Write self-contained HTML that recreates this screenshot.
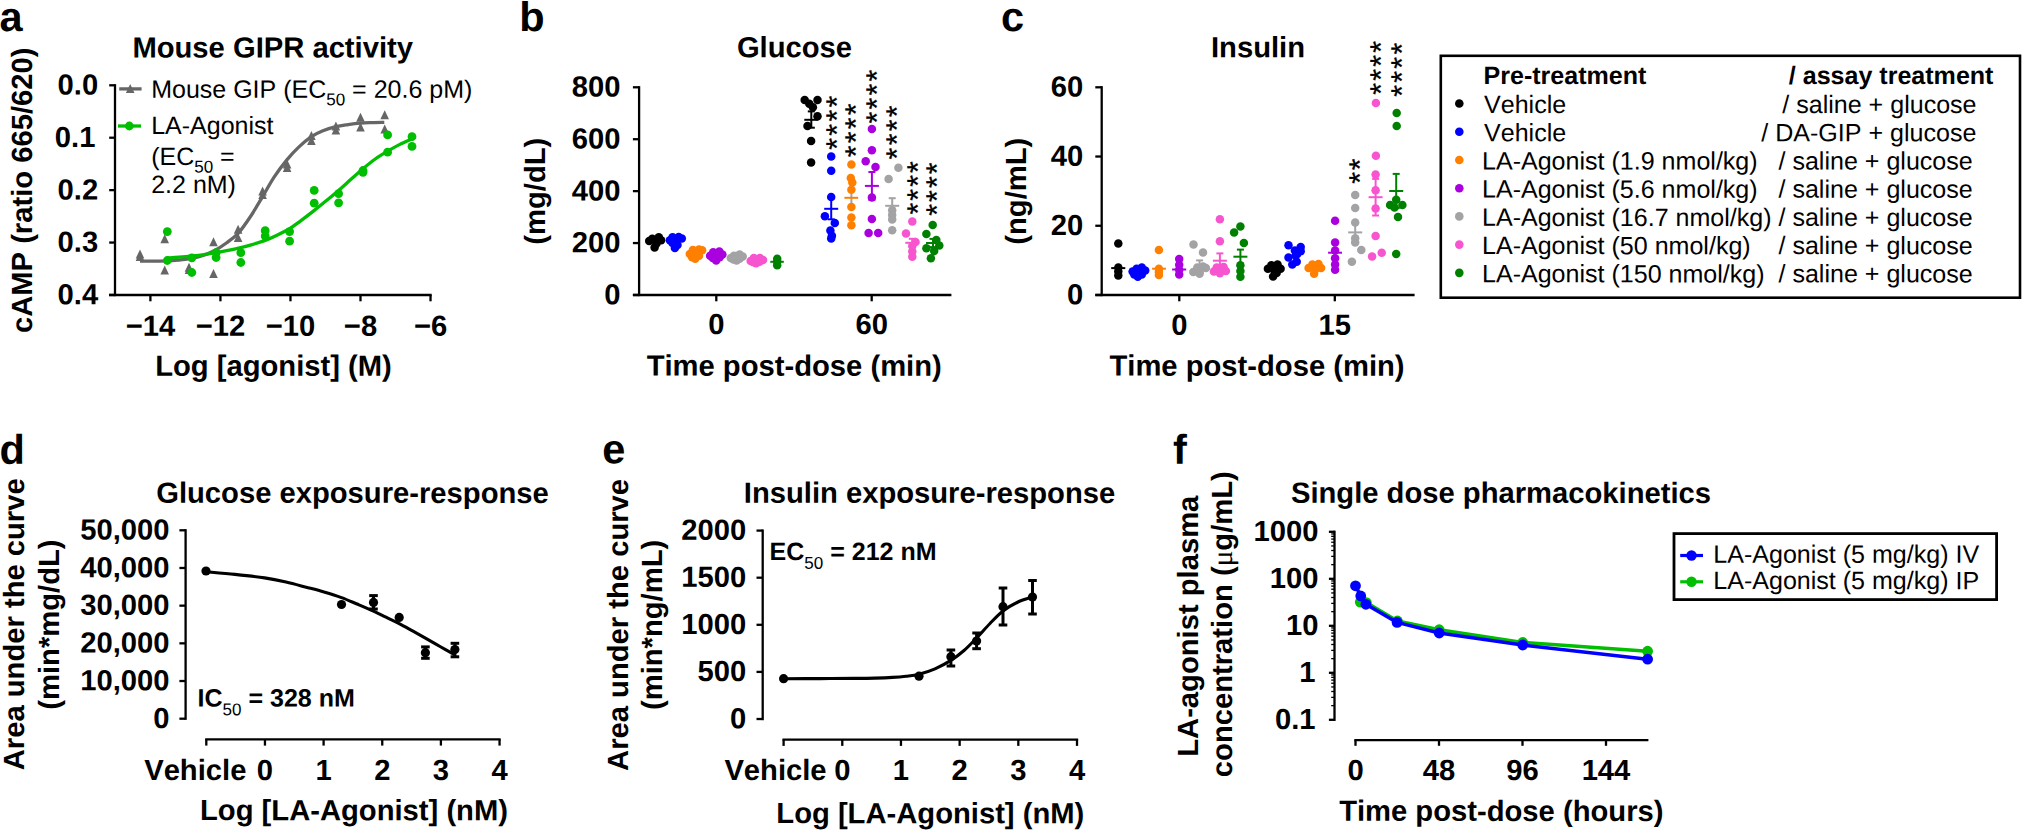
<!DOCTYPE html>
<html lang="en">
<head>
<meta charset="utf-8">
<title>LA-Agonist GIPR activity, glucose, insulin and pharmacokinetics</title>
<style>
html,body{margin:0;padding:0;background:#ffffff;}
body{width:2022px;height:830px;overflow:hidden;}
svg{display:block;font-family:"Liberation Sans",sans-serif;}
svg text{white-space:pre;font-kerning:none;font-variant-ligatures:none;text-rendering:geometricPrecision;}
</style>
</head>
<body>
<svg width="2022" height="830" viewBox="0 0 2022 830">
<rect x="0" y="0" width="2022" height="830" fill="#ffffff"/>
<g id="panel-a">
<text x="-0.6" y="31" font-size="41.5" font-weight="700" text-anchor="start" fill="#000" transform="rotate(0.03 -0.6 31)">a</text>
<text x="272.7" y="57.5" font-size="29.2" font-weight="700" text-anchor="middle" fill="#000" transform="rotate(0.03 272.7 57.5)">Mouse GIPR activity</text>
<line x1="115" y1="84.15" x2="115" y2="296.15" stroke="#000" stroke-width="2.3" stroke-linecap="butt"/>
<line x1="109" y1="295" x2="431.7" y2="295" stroke="#000" stroke-width="2.3" stroke-linecap="butt"/>
<line x1="109.2" y1="85.3" x2="115" y2="85.3" stroke="#000" stroke-width="2.3" stroke-linecap="butt"/>
<text x="98.2" y="94.6" font-size="29.2" font-weight="700" text-anchor="end" fill="#000" transform="rotate(0.03 98.2 94.6)">0.0</text>
<line x1="109.2" y1="137.72" x2="115" y2="137.72" stroke="#000" stroke-width="2.3" stroke-linecap="butt"/>
<text x="95.4" y="147.02" font-size="29.2" font-weight="700" text-anchor="end" fill="#000" transform="rotate(0.03 95.4 147.02)">0.1</text>
<line x1="109.2" y1="190.14" x2="115" y2="190.14" stroke="#000" stroke-width="2.3" stroke-linecap="butt"/>
<text x="98.2" y="199.44" font-size="29.2" font-weight="700" text-anchor="end" fill="#000" transform="rotate(0.03 98.2 199.44)">0.2</text>
<line x1="109.2" y1="242.56" x2="115" y2="242.56" stroke="#000" stroke-width="2.3" stroke-linecap="butt"/>
<text x="98.2" y="251.86" font-size="29.2" font-weight="700" text-anchor="end" fill="#000" transform="rotate(0.03 98.2 251.86)">0.3</text>
<line x1="109.2" y1="294.98" x2="115" y2="294.98" stroke="#000" stroke-width="2.3" stroke-linecap="butt"/>
<text x="98.2" y="304.28" font-size="29.2" font-weight="700" text-anchor="end" fill="#000" transform="rotate(0.03 98.2 304.28)">0.4</text>
<line x1="150.4" y1="295" x2="150.4" y2="301.3" stroke="#000" stroke-width="2.3" stroke-linecap="butt"/>
<text x="150.4" y="335.7" font-size="29.2" font-weight="700" text-anchor="middle" fill="#000" transform="rotate(0.03 150.4 335.7)">−14</text>
<line x1="220.43" y1="295" x2="220.43" y2="301.3" stroke="#000" stroke-width="2.3" stroke-linecap="butt"/>
<text x="220.43" y="335.7" font-size="29.2" font-weight="700" text-anchor="middle" fill="#000" transform="rotate(0.03 220.43 335.7)">−12</text>
<line x1="290.46" y1="295" x2="290.46" y2="301.3" stroke="#000" stroke-width="2.3" stroke-linecap="butt"/>
<text x="290.46" y="335.7" font-size="29.2" font-weight="700" text-anchor="middle" fill="#000" transform="rotate(0.03 290.46 335.7)">−10</text>
<line x1="360.49" y1="295" x2="360.49" y2="301.3" stroke="#000" stroke-width="2.3" stroke-linecap="butt"/>
<text x="360.49" y="335.7" font-size="29.2" font-weight="700" text-anchor="middle" fill="#000" transform="rotate(0.03 360.49 335.7)">−8</text>
<line x1="430.52" y1="295" x2="430.52" y2="301.3" stroke="#000" stroke-width="2.3" stroke-linecap="butt"/>
<text x="430.52" y="335.7" font-size="29.2" font-weight="700" text-anchor="middle" fill="#000" transform="rotate(0.03 430.52 335.7)">−6</text>
<text x="273.5" y="375.7" font-size="29.2" font-weight="700" text-anchor="middle" fill="#000" transform="rotate(0.03 273.5 375.7)">Log [agonist] (M)</text>
<text x="32.2" y="190.3" font-size="29.2" font-weight="700" text-anchor="middle" fill="#000" transform="rotate(-90 32.2 190.3)">cAMP (ratio 665/620)</text>
<path d="M140,261.1 C142,261.1 147.65,261.15 152,261.1 C156.35,261.05 161.77,260.97 166.1,260.8 C170.43,260.63 173.98,260.45 178,260.1 C182.02,259.75 186.15,259.43 190.2,258.7 C194.25,257.97 198.28,257.02 202.3,255.7 C206.32,254.38 210.28,252.92 214.3,250.8 C218.32,248.68 222.43,245.9 226.4,243 C230.37,240.1 234.08,237.82 238.1,233.4 C242.12,228.98 246.42,222.63 250.5,216.5 C254.58,210.37 258.67,203.17 262.6,196.6 C266.53,190.03 270.02,183.27 274.1,177.1 C278.18,170.93 283.08,164.52 287.1,159.6 C291.12,154.68 294.15,151.42 298.2,147.6 C302.25,143.78 307.38,139.47 311.4,136.7 C315.42,133.93 318.22,132.67 322.3,131 C326.38,129.33 331.62,127.77 335.9,126.7 C340.18,125.63 343.9,125.2 348,124.6 C352.1,124 356.5,123.43 360.5,123.1 C364.5,122.77 368.03,122.72 372,122.6 C375.97,122.48 382.25,122.43 384.3,122.4" fill="none" stroke="#666666" stroke-width="3.3" stroke-linecap="butt"/>
<polygon points="140,249.5 135.7,258.5 144.3,258.5" fill="#666666"/>
<polygon points="140,252 135.7,261 144.3,261" fill="#666666"/>
<polygon points="164.7,234.3 160.4,243.3 169,243.3" fill="#666666"/>
<polygon points="164.7,265.6 160.4,274.6 169,274.6" fill="#666666"/>
<polygon points="189,262.7 184.7,271.7 193.3,271.7" fill="#666666"/>
<polygon points="189,265.1 184.7,274.1 193.3,274.1" fill="#666666"/>
<polygon points="213.5,237.3 209.2,246.3 217.8,246.3" fill="#666666"/>
<polygon points="213.5,269 209.2,278 217.8,278" fill="#666666"/>
<polygon points="238.1,224.7 233.8,233.7 242.4,233.7" fill="#666666"/>
<polygon points="238.1,233.1 233.8,242.1 242.4,242.1" fill="#666666"/>
<polygon points="262.6,186.5 258.3,195.5 266.9,195.5" fill="#666666"/>
<polygon points="262.6,190.1 258.3,199.1 266.9,199.1" fill="#666666"/>
<polygon points="287.1,159.4 282.8,168.4 291.4,168.4" fill="#666666"/>
<polygon points="287.1,163 282.8,172 291.4,172" fill="#666666"/>
<polygon points="311.4,131 307.1,140 315.7,140" fill="#666666"/>
<polygon points="311.4,135.9 307.1,144.9 315.7,144.9" fill="#666666"/>
<polygon points="335.9,121.4 331.6,130.4 340.2,130.4" fill="#666666"/>
<polygon points="335.9,125.6 331.6,134.6 340.2,134.6" fill="#666666"/>
<polygon points="360.5,112.7 356.2,121.7 364.8,121.7" fill="#666666"/>
<polygon points="360.5,122.6 356.2,131.6 364.8,131.6" fill="#666666"/>
<polygon points="384.7,110.2 380.4,119.2 389,119.2" fill="#666666"/>
<polygon points="384.7,124.4 380.4,133.4 389,133.4" fill="#666666"/>
<path d="M167.3,258.1 C169.25,257.95 174.92,257.55 179,257.2 C183.08,256.85 187.63,256.43 191.8,256 C195.97,255.57 199.95,255.15 204,254.6 C208.05,254.05 212.1,253.4 216.1,252.7 C220.1,252 223.88,251.25 228,250.4 C232.12,249.55 236.63,248.62 240.8,247.6 C244.97,246.58 248.93,245.5 253,244.3 C257.07,243.1 261.2,241.92 265.2,240.4 C269.2,238.88 272.93,237.17 277,235.2 C281.07,233.23 285.77,230.92 289.6,228.6 C293.43,226.28 295.93,224.3 300,221.3 C304.07,218.3 309.48,214.15 314,210.6 C318.52,207.05 323,203.37 327.1,200 C331.2,196.63 334.62,193.85 338.6,190.4 C342.58,186.95 346.93,182.92 351,179.3 C355.07,175.68 358.95,172.08 363,168.7 C367.05,165.32 371.2,161.92 375.3,159 C379.4,156.08 383.58,153.6 387.6,151.2 C391.62,148.8 395.33,146.67 399.4,144.6 C403.47,142.53 409.9,139.77 412,138.8" fill="none" stroke="#00be00" stroke-width="3.3" stroke-linecap="butt"/>
<circle cx="167.3" cy="231.6" r="4.4" fill="#00be00"/>
<circle cx="167.3" cy="260.5" r="4.4" fill="#00be00"/>
<circle cx="191.8" cy="257.8" r="4.4" fill="#00be00"/>
<circle cx="191.8" cy="272.5" r="4.4" fill="#00be00"/>
<circle cx="216.1" cy="252.7" r="4.4" fill="#00be00"/>
<circle cx="216.1" cy="257.5" r="4.4" fill="#00be00"/>
<circle cx="240.8" cy="252.7" r="4.4" fill="#00be00"/>
<circle cx="240.8" cy="262.5" r="4.4" fill="#00be00"/>
<circle cx="265.2" cy="230.7" r="4.4" fill="#00be00"/>
<circle cx="265.2" cy="236.1" r="4.4" fill="#00be00"/>
<circle cx="289.6" cy="231.6" r="4.4" fill="#00be00"/>
<circle cx="289.6" cy="241.2" r="4.4" fill="#00be00"/>
<circle cx="314.2" cy="190.4" r="4.4" fill="#00be00"/>
<circle cx="314.2" cy="203.2" r="4.4" fill="#00be00"/>
<circle cx="338.6" cy="193.7" r="4.4" fill="#00be00"/>
<circle cx="338.6" cy="202.8" r="4.4" fill="#00be00"/>
<circle cx="363" cy="172.3" r="4.4" fill="#00be00"/>
<circle cx="363" cy="170.5" r="4.4" fill="#00be00"/>
<circle cx="387.6" cy="134.9" r="4.4" fill="#00be00"/>
<circle cx="387.6" cy="152.2" r="4.4" fill="#00be00"/>
<circle cx="412" cy="136.7" r="4.4" fill="#00be00"/>
<circle cx="412" cy="146.4" r="4.4" fill="#00be00"/>
<line x1="119.2" y1="88.9" x2="141.6" y2="88.9" stroke="#666666" stroke-width="3.3" stroke-linecap="butt"/>
<polygon points="130.2,84 125.9,93 134.5,93" fill="#666666"/>
<text x="151.2" y="97.7" font-size="25" font-weight="400" fill="#000" transform="rotate(0.03 151.2 97.7)">Mouse GIP (EC<tspan font-size="17" font-weight="400" dy="7.5">50</tspan><tspan dy="-7.5"> = 20.6 pM)</tspan></text>
<line x1="118" y1="126" x2="141" y2="126" stroke="#00be00" stroke-width="3.3" stroke-linecap="butt"/>
<circle cx="129.3" cy="126" r="4.4" fill="#00be00"/>
<text x="151.2" y="134" font-size="25" font-weight="400" text-anchor="start" fill="#000" transform="rotate(0.03 151.2 134)">LA-Agonist</text>
<text x="151.2" y="165" font-size="25" font-weight="400" fill="#000" transform="rotate(0.03 151.2 165)">(EC<tspan font-size="17" font-weight="400" dy="7.5">50</tspan><tspan dy="-7.5"> =</tspan></text>
<text x="151.2" y="193" font-size="25" font-weight="400" text-anchor="start" fill="#000" transform="rotate(0.03 151.2 193)">2.2 nM)</text>
</g>
<g id="panel-b">
<text x="519.3" y="31" font-size="41.5" font-weight="700" text-anchor="start" fill="#000" transform="rotate(0.03 519.3 31)">b</text>
<text x="794.5" y="57.3" font-size="29.2" font-weight="700" text-anchor="middle" fill="#000" transform="rotate(0.03 794.5 57.3)">Glucose</text>
<line x1="639.1" y1="86.15" x2="639.1" y2="296.15" stroke="#000" stroke-width="2.3" stroke-linecap="butt"/>
<line x1="632.9" y1="295" x2="951.4" y2="295" stroke="#000" stroke-width="2.3" stroke-linecap="butt"/>
<line x1="632.9" y1="87.3" x2="639.1" y2="87.3" stroke="#000" stroke-width="2.3" stroke-linecap="butt"/>
<text x="620.4" y="96.6" font-size="29.2" font-weight="700" text-anchor="end" fill="#000" transform="rotate(0.03 620.4 96.6)">800</text>
<line x1="632.9" y1="139.22" x2="639.1" y2="139.22" stroke="#000" stroke-width="2.3" stroke-linecap="butt"/>
<text x="620.4" y="148.52" font-size="29.2" font-weight="700" text-anchor="end" fill="#000" transform="rotate(0.03 620.4 148.52)">600</text>
<line x1="632.9" y1="191.14" x2="639.1" y2="191.14" stroke="#000" stroke-width="2.3" stroke-linecap="butt"/>
<text x="620.4" y="200.44" font-size="29.2" font-weight="700" text-anchor="end" fill="#000" transform="rotate(0.03 620.4 200.44)">400</text>
<line x1="632.9" y1="243.06" x2="639.1" y2="243.06" stroke="#000" stroke-width="2.3" stroke-linecap="butt"/>
<text x="620.4" y="252.36" font-size="29.2" font-weight="700" text-anchor="end" fill="#000" transform="rotate(0.03 620.4 252.36)">200</text>
<line x1="632.9" y1="294.98" x2="639.1" y2="294.98" stroke="#000" stroke-width="2.3" stroke-linecap="butt"/>
<text x="620.4" y="304.28" font-size="29.2" font-weight="700" text-anchor="end" fill="#000" transform="rotate(0.03 620.4 304.28)">0</text>
<line x1="716.3" y1="295" x2="716.3" y2="301.3" stroke="#000" stroke-width="2.3" stroke-linecap="butt"/>
<text x="716.3" y="333.9" font-size="29.2" font-weight="700" text-anchor="middle" fill="#000" transform="rotate(0.03 716.3 333.9)">0</text>
<line x1="871.7" y1="295" x2="871.7" y2="301.3" stroke="#000" stroke-width="2.3" stroke-linecap="butt"/>
<text x="871.7" y="333.9" font-size="29.2" font-weight="700" text-anchor="middle" fill="#000" transform="rotate(0.03 871.7 333.9)">60</text>
<text x="794.2" y="375.7" font-size="29.2" font-weight="700" text-anchor="middle" fill="#000" transform="rotate(0.03 794.2 375.7)">Time post-dose (min)</text>
<text x="544.8" y="191.2" font-size="29.2" font-weight="700" text-anchor="middle" fill="#000" transform="rotate(-90 544.8 191.2)">(mg/dL)</text>
<circle cx="649.2" cy="241.1" r="4.25" fill="#000000"/>
<circle cx="652.3" cy="238.8" r="4.25" fill="#000000"/>
<circle cx="658.8" cy="237.3" r="4.25" fill="#000000"/>
<circle cx="661.1" cy="240.3" r="4.25" fill="#000000"/>
<circle cx="655.3" cy="240.3" r="4.25" fill="#000000"/>
<circle cx="654.6" cy="247.6" r="4.25" fill="#000000"/>
<circle cx="656.5" cy="243.5" r="4.25" fill="#000000"/>
<circle cx="669.9" cy="240.3" r="4.25" fill="#0000ff"/>
<circle cx="672.6" cy="237.3" r="4.25" fill="#0000ff"/>
<circle cx="678.7" cy="236.9" r="4.25" fill="#0000ff"/>
<circle cx="681.8" cy="238.4" r="4.25" fill="#0000ff"/>
<circle cx="676" cy="241.9" r="4.25" fill="#0000ff"/>
<circle cx="674.9" cy="248" r="4.25" fill="#0000ff"/>
<circle cx="677.5" cy="244.9" r="4.25" fill="#0000ff"/>
<circle cx="672.5" cy="243" r="4.25" fill="#0000ff"/>
<circle cx="689.8" cy="254.1" r="4.25" fill="#ff8000"/>
<circle cx="692.9" cy="249.9" r="4.25" fill="#ff8000"/>
<circle cx="699" cy="249.5" r="4.25" fill="#ff8000"/>
<circle cx="702.1" cy="250.3" r="4.25" fill="#ff8000"/>
<circle cx="695.9" cy="254.1" r="4.25" fill="#ff8000"/>
<circle cx="695.2" cy="258.7" r="4.25" fill="#ff8000"/>
<circle cx="699" cy="255.7" r="4.25" fill="#ff8000"/>
<circle cx="692.1" cy="257.2" r="4.25" fill="#ff8000"/>
<circle cx="710.1" cy="255.7" r="4.25" fill="#aa00e0"/>
<circle cx="713.2" cy="252.2" r="4.25" fill="#aa00e0"/>
<circle cx="719.3" cy="251.4" r="4.25" fill="#aa00e0"/>
<circle cx="722.4" cy="254.5" r="4.25" fill="#aa00e0"/>
<circle cx="716.2" cy="255.7" r="4.25" fill="#aa00e0"/>
<circle cx="716.2" cy="260.6" r="4.25" fill="#aa00e0"/>
<circle cx="719.7" cy="257.2" r="4.25" fill="#aa00e0"/>
<circle cx="712.8" cy="258" r="4.25" fill="#aa00e0"/>
<circle cx="730.8" cy="258" r="4.25" fill="#a3a3a6"/>
<circle cx="733.9" cy="255.7" r="4.25" fill="#a3a3a6"/>
<circle cx="739.6" cy="254.5" r="4.25" fill="#a3a3a6"/>
<circle cx="742.7" cy="256.4" r="4.25" fill="#a3a3a6"/>
<circle cx="736.6" cy="258" r="4.25" fill="#a3a3a6"/>
<circle cx="736.6" cy="260.6" r="4.25" fill="#a3a3a6"/>
<circle cx="739.6" cy="258.7" r="4.25" fill="#a3a3a6"/>
<circle cx="733.5" cy="259.5" r="4.25" fill="#a3a3a6"/>
<circle cx="750.7" cy="261" r="4.25" fill="#f755d0"/>
<circle cx="753.8" cy="258" r="4.25" fill="#f755d0"/>
<circle cx="759.9" cy="258" r="4.25" fill="#f755d0"/>
<circle cx="763" cy="259.9" r="4.25" fill="#f755d0"/>
<circle cx="756.9" cy="261" r="4.25" fill="#f755d0"/>
<circle cx="756.1" cy="263.3" r="4.25" fill="#f755d0"/>
<circle cx="759.5" cy="261.8" r="4.25" fill="#f755d0"/>
<circle cx="753.4" cy="262.2" r="4.25" fill="#f755d0"/>
<circle cx="777.2" cy="258.7" r="4.25" fill="#008000"/>
<circle cx="777.2" cy="261.8" r="4.25" fill="#008000"/>
<circle cx="777.2" cy="265.2" r="4.25" fill="#008000"/>
<line x1="770.3" y1="261.8" x2="783.8" y2="261.8" stroke="#008000" stroke-width="2" stroke-linecap="butt"/>
<line x1="811.3" y1="111.4" x2="811.3" y2="127.7" stroke="#000000" stroke-width="2" stroke-linecap="butt"/>
<line x1="807.8" y1="111.4" x2="814.8" y2="111.4" stroke="#000000" stroke-width="2" stroke-linecap="butt"/>
<line x1="807.8" y1="127.7" x2="814.8" y2="127.7" stroke="#000000" stroke-width="2" stroke-linecap="butt"/>
<line x1="804.3" y1="119.8" x2="818.3" y2="119.8" stroke="#000000" stroke-width="2" stroke-linecap="butt"/>
<circle cx="804.7" cy="99.9" r="4.25" fill="#000000"/>
<circle cx="817.5" cy="99.9" r="4.25" fill="#000000"/>
<circle cx="809.3" cy="103.8" r="4.25" fill="#000000"/>
<circle cx="812.9" cy="107.2" r="4.25" fill="#000000"/>
<circle cx="817.5" cy="116.2" r="4.25" fill="#000000"/>
<circle cx="807.5" cy="126.1" r="4.25" fill="#000000"/>
<circle cx="811.1" cy="140.9" r="4.25" fill="#000000"/>
<circle cx="811.1" cy="162.4" r="4.25" fill="#000000"/>
<line x1="831.2" y1="198.4" x2="831.2" y2="219.3" stroke="#0000ff" stroke-width="2" stroke-linecap="butt"/>
<line x1="827.7" y1="198.4" x2="834.7" y2="198.4" stroke="#0000ff" stroke-width="2" stroke-linecap="butt"/>
<line x1="827.7" y1="219.3" x2="834.7" y2="219.3" stroke="#0000ff" stroke-width="2" stroke-linecap="butt"/>
<line x1="824.2" y1="208.8" x2="838.2" y2="208.8" stroke="#0000ff" stroke-width="2" stroke-linecap="butt"/>
<circle cx="831.2" cy="156.6" r="4.25" fill="#0000ff"/>
<circle cx="831.2" cy="170.7" r="4.25" fill="#0000ff"/>
<circle cx="831.2" cy="197" r="4.25" fill="#0000ff"/>
<circle cx="824.9" cy="216.3" r="4.25" fill="#0000ff"/>
<circle cx="834.8" cy="222.9" r="4.25" fill="#0000ff"/>
<circle cx="830.4" cy="230.5" r="4.25" fill="#0000ff"/>
<circle cx="831.9" cy="235.8" r="4.25" fill="#0000ff"/>
<circle cx="831.2" cy="238.6" r="4.25" fill="#0000ff"/>
<line x1="851.4" y1="193.5" x2="851.4" y2="203.5" stroke="#a3a3a6" stroke-width="2" stroke-linecap="butt"/>
<line x1="844.4" y1="197.8" x2="858.2" y2="197.8" stroke="#ff8000" stroke-width="2" stroke-linecap="butt"/>
<circle cx="851.4" cy="164.5" r="4.25" fill="#ff8000"/>
<circle cx="850.8" cy="178" r="4.25" fill="#ff8000"/>
<circle cx="852.3" cy="182.5" r="4.25" fill="#ff8000"/>
<circle cx="851.4" cy="189.8" r="4.25" fill="#ff8000"/>
<circle cx="851.4" cy="206.9" r="4.25" fill="#ff8000"/>
<circle cx="851.4" cy="217.5" r="4.25" fill="#ff8000"/>
<circle cx="851.4" cy="225.3" r="4.25" fill="#ff8000"/>
<line x1="871.9" y1="172" x2="871.9" y2="199.8" stroke="#aa00e0" stroke-width="2" stroke-linecap="butt"/>
<line x1="868.4" y1="172" x2="875.4" y2="172" stroke="#aa00e0" stroke-width="2" stroke-linecap="butt"/>
<line x1="868.4" y1="199.8" x2="875.4" y2="199.8" stroke="#aa00e0" stroke-width="2" stroke-linecap="butt"/>
<line x1="864.9" y1="185.9" x2="878.9" y2="185.9" stroke="#aa00e0" stroke-width="2" stroke-linecap="butt"/>
<circle cx="871.9" cy="129.1" r="4.25" fill="#aa00e0"/>
<circle cx="871.9" cy="150.3" r="4.25" fill="#aa00e0"/>
<circle cx="865.7" cy="161.3" r="4.25" fill="#aa00e0"/>
<circle cx="875.5" cy="166.9" r="4.25" fill="#aa00e0"/>
<circle cx="871.9" cy="197.6" r="4.25" fill="#aa00e0"/>
<circle cx="871.9" cy="218.9" r="4.25" fill="#aa00e0"/>
<circle cx="868.6" cy="232.9" r="4.25" fill="#aa00e0"/>
<circle cx="878.2" cy="232.9" r="4.25" fill="#aa00e0"/>
<line x1="892.2" y1="198.2" x2="892.2" y2="213.4" stroke="#a3a3a6" stroke-width="2" stroke-linecap="butt"/>
<line x1="888.7" y1="198.2" x2="895.7" y2="198.2" stroke="#a3a3a6" stroke-width="2" stroke-linecap="butt"/>
<line x1="888.7" y1="213.4" x2="895.7" y2="213.4" stroke="#a3a3a6" stroke-width="2" stroke-linecap="butt"/>
<line x1="885.2" y1="205.8" x2="899.2" y2="205.8" stroke="#a3a3a6" stroke-width="2" stroke-linecap="butt"/>
<circle cx="898.4" cy="167.7" r="4.25" fill="#a3a3a6"/>
<circle cx="888.6" cy="178.9" r="4.25" fill="#a3a3a6"/>
<circle cx="892.2" cy="210.2" r="4.25" fill="#a3a3a6"/>
<circle cx="892.2" cy="215" r="4.25" fill="#a3a3a6"/>
<circle cx="892.2" cy="219.6" r="4.25" fill="#a3a3a6"/>
<circle cx="892.2" cy="230.2" r="4.25" fill="#a3a3a6"/>
<line x1="912.3" y1="238.8" x2="912.3" y2="246.8" stroke="#f755d0" stroke-width="2" stroke-linecap="butt"/>
<line x1="908.8" y1="238.8" x2="915.8" y2="238.8" stroke="#f755d0" stroke-width="2" stroke-linecap="butt"/>
<line x1="908.8" y1="246.8" x2="915.8" y2="246.8" stroke="#f755d0" stroke-width="2" stroke-linecap="butt"/>
<line x1="905.3" y1="242.8" x2="919.3" y2="242.8" stroke="#f755d0" stroke-width="2" stroke-linecap="butt"/>
<circle cx="912.3" cy="221.6" r="4.25" fill="#f755d0"/>
<circle cx="906" cy="233.4" r="4.25" fill="#f755d0"/>
<circle cx="915.5" cy="241.9" r="4.25" fill="#f755d0"/>
<circle cx="912.3" cy="246.1" r="4.25" fill="#f755d0"/>
<circle cx="912.3" cy="251.6" r="4.25" fill="#f755d0"/>
<circle cx="912.3" cy="256.7" r="4.25" fill="#f755d0"/>
<line x1="933" y1="238.9" x2="933" y2="247.1" stroke="#008000" stroke-width="2" stroke-linecap="butt"/>
<line x1="929.5" y1="238.9" x2="936.5" y2="238.9" stroke="#008000" stroke-width="2" stroke-linecap="butt"/>
<line x1="929.5" y1="247.1" x2="936.5" y2="247.1" stroke="#008000" stroke-width="2" stroke-linecap="butt"/>
<line x1="926" y1="243" x2="940" y2="243" stroke="#008000" stroke-width="2" stroke-linecap="butt"/>
<circle cx="932.7" cy="224.9" r="4.25" fill="#008000"/>
<circle cx="926.4" cy="233.9" r="4.25" fill="#008000"/>
<circle cx="936.3" cy="240.1" r="4.25" fill="#008000"/>
<circle cx="939.3" cy="245.5" r="4.25" fill="#008000"/>
<circle cx="926.4" cy="248.2" r="4.25" fill="#008000"/>
<circle cx="934.2" cy="251" r="4.25" fill="#008000"/>
<circle cx="930.9" cy="258.2" r="4.25" fill="#008000"/>
<text x="825.48" y="117.09" font-size="30" font-weight="400" fill="#000" stroke="#000" stroke-width="0.3" transform="rotate(-90 831.3 101.7)">*</text>
<text x="825.48" y="131.14" font-size="30" font-weight="400" fill="#000" stroke="#000" stroke-width="0.3" transform="rotate(-90 831.3 115.75)">*</text>
<text x="825.48" y="145.19" font-size="30" font-weight="400" fill="#000" stroke="#000" stroke-width="0.3" transform="rotate(-90 831.3 129.8)">*</text>
<text x="825.48" y="159.24" font-size="30" font-weight="400" fill="#000" stroke="#000" stroke-width="0.3" transform="rotate(-90 831.3 143.85)">*</text>
<text x="845.28" y="124.69" font-size="30" font-weight="400" fill="#000" stroke="#000" stroke-width="0.3" transform="rotate(-90 851.1 109.3)">*</text>
<text x="845.28" y="138.74" font-size="30" font-weight="400" fill="#000" stroke="#000" stroke-width="0.3" transform="rotate(-90 851.1 123.35)">*</text>
<text x="845.28" y="152.79" font-size="30" font-weight="400" fill="#000" stroke="#000" stroke-width="0.3" transform="rotate(-90 851.1 137.4)">*</text>
<text x="845.28" y="166.84" font-size="30" font-weight="400" fill="#000" stroke="#000" stroke-width="0.3" transform="rotate(-90 851.1 151.45)">*</text>
<text x="865.58" y="90.99" font-size="30" font-weight="400" fill="#000" stroke="#000" stroke-width="0.3" transform="rotate(-90 871.4 75.6)">*</text>
<text x="865.58" y="105.04" font-size="30" font-weight="400" fill="#000" stroke="#000" stroke-width="0.3" transform="rotate(-90 871.4 89.65)">*</text>
<text x="865.58" y="119.09" font-size="30" font-weight="400" fill="#000" stroke="#000" stroke-width="0.3" transform="rotate(-90 871.4 103.7)">*</text>
<text x="865.58" y="133.14" font-size="30" font-weight="400" fill="#000" stroke="#000" stroke-width="0.3" transform="rotate(-90 871.4 117.75)">*</text>
<text x="885.48" y="126.79" font-size="30" font-weight="400" fill="#000" stroke="#000" stroke-width="0.3" transform="rotate(-90 891.3 111.4)">*</text>
<text x="885.48" y="140.84" font-size="30" font-weight="400" fill="#000" stroke="#000" stroke-width="0.3" transform="rotate(-90 891.3 125.45)">*</text>
<text x="885.48" y="154.89" font-size="30" font-weight="400" fill="#000" stroke="#000" stroke-width="0.3" transform="rotate(-90 891.3 139.5)">*</text>
<text x="885.48" y="168.94" font-size="30" font-weight="400" fill="#000" stroke="#000" stroke-width="0.3" transform="rotate(-90 891.3 153.55)">*</text>
<text x="906.58" y="182.49" font-size="30" font-weight="400" fill="#000" stroke="#000" stroke-width="0.3" transform="rotate(-90 912.4 167.1)">*</text>
<text x="906.58" y="196.39" font-size="30" font-weight="400" fill="#000" stroke="#000" stroke-width="0.3" transform="rotate(-90 912.4 181)">*</text>
<text x="906.58" y="210.29" font-size="30" font-weight="400" fill="#000" stroke="#000" stroke-width="0.3" transform="rotate(-90 912.4 194.9)">*</text>
<text x="906.58" y="224.19" font-size="30" font-weight="400" fill="#000" stroke="#000" stroke-width="0.3" transform="rotate(-90 912.4 208.8)">*</text>
<text x="925.78" y="183.69" font-size="30" font-weight="400" fill="#000" stroke="#000" stroke-width="0.3" transform="rotate(-90 931.6 168.3)">*</text>
<text x="925.78" y="197.59" font-size="30" font-weight="400" fill="#000" stroke="#000" stroke-width="0.3" transform="rotate(-90 931.6 182.2)">*</text>
<text x="925.78" y="211.49" font-size="30" font-weight="400" fill="#000" stroke="#000" stroke-width="0.3" transform="rotate(-90 931.6 196.1)">*</text>
<text x="925.78" y="225.39" font-size="30" font-weight="400" fill="#000" stroke="#000" stroke-width="0.3" transform="rotate(-90 931.6 210)">*</text>
</g>
<g id="panel-c">
<text x="1000.9" y="31" font-size="41.5" font-weight="700" text-anchor="start" fill="#000" transform="rotate(0.03 1000.9 31)">c</text>
<text x="1258" y="57.3" font-size="29.2" font-weight="700" text-anchor="middle" fill="#000" transform="rotate(0.03 1258 57.3)">Insulin</text>
<line x1="1101.7" y1="86.15" x2="1101.7" y2="296.15" stroke="#000" stroke-width="2.3" stroke-linecap="butt"/>
<line x1="1095.3" y1="295" x2="1414.6" y2="295" stroke="#000" stroke-width="2.3" stroke-linecap="butt"/>
<line x1="1095.3" y1="87.3" x2="1101.7" y2="87.3" stroke="#000" stroke-width="2.3" stroke-linecap="butt"/>
<text x="1083.2" y="96.6" font-size="29.2" font-weight="700" text-anchor="end" fill="#000" transform="rotate(0.03 1083.2 96.6)">60</text>
<line x1="1095.3" y1="156.53" x2="1101.7" y2="156.53" stroke="#000" stroke-width="2.3" stroke-linecap="butt"/>
<text x="1083.2" y="165.83" font-size="29.2" font-weight="700" text-anchor="end" fill="#000" transform="rotate(0.03 1083.2 165.83)">40</text>
<line x1="1095.3" y1="225.76" x2="1101.7" y2="225.76" stroke="#000" stroke-width="2.3" stroke-linecap="butt"/>
<text x="1083.2" y="235.06" font-size="29.2" font-weight="700" text-anchor="end" fill="#000" transform="rotate(0.03 1083.2 235.06)">20</text>
<line x1="1095.3" y1="294.99" x2="1101.7" y2="294.99" stroke="#000" stroke-width="2.3" stroke-linecap="butt"/>
<text x="1083.2" y="304.29" font-size="29.2" font-weight="700" text-anchor="end" fill="#000" transform="rotate(0.03 1083.2 304.29)">0</text>
<line x1="1179.3" y1="295" x2="1179.3" y2="301.3" stroke="#000" stroke-width="2.3" stroke-linecap="butt"/>
<text x="1179.3" y="334.7" font-size="29.2" font-weight="700" text-anchor="middle" fill="#000" transform="rotate(0.03 1179.3 334.7)">0</text>
<line x1="1334.8" y1="295" x2="1334.8" y2="301.3" stroke="#000" stroke-width="2.3" stroke-linecap="butt"/>
<text x="1334.8" y="334.7" font-size="29.2" font-weight="700" text-anchor="middle" fill="#000" transform="rotate(0.03 1334.8 334.7)">15</text>
<text x="1257" y="375.7" font-size="29.2" font-weight="700" text-anchor="middle" fill="#000" transform="rotate(0.03 1257 375.7)">Time post-dose (min)</text>
<text x="1025.8" y="191.2" font-size="29.2" font-weight="700" text-anchor="middle" fill="#000" transform="rotate(-90 1025.8 191.2)">(ng/mL)</text>
<circle cx="1118.3" cy="243.5" r="4.25" fill="#000000"/>
<circle cx="1118.3" cy="267.5" r="4.25" fill="#000000"/>
<circle cx="1118.3" cy="271.5" r="4.25" fill="#000000"/>
<circle cx="1118.3" cy="275.5" r="4.25" fill="#000000"/>
<line x1="1111.2" y1="268.1" x2="1125.3" y2="268.1" stroke="#000000" stroke-width="2" stroke-linecap="butt"/>
<circle cx="1132.6" cy="271.5" r="4.25" fill="#0000ff"/>
<circle cx="1136.6" cy="268.7" r="4.25" fill="#0000ff"/>
<circle cx="1141.8" cy="267.5" r="4.25" fill="#0000ff"/>
<circle cx="1145.2" cy="270.4" r="4.25" fill="#0000ff"/>
<circle cx="1138.9" cy="273.2" r="4.25" fill="#0000ff"/>
<circle cx="1137.8" cy="276.7" r="4.25" fill="#0000ff"/>
<circle cx="1141.8" cy="274.4" r="4.25" fill="#0000ff"/>
<circle cx="1134.3" cy="274.4" r="4.25" fill="#0000ff"/>
<circle cx="1158.9" cy="250" r="4.25" fill="#ff8000"/>
<circle cx="1158.9" cy="268.7" r="4.25" fill="#ff8000"/>
<circle cx="1158.9" cy="272.1" r="4.25" fill="#ff8000"/>
<circle cx="1158.9" cy="275" r="4.25" fill="#ff8000"/>
<line x1="1152.1" y1="268.7" x2="1165.9" y2="268.7" stroke="#ff8000" stroke-width="2" stroke-linecap="butt"/>
<circle cx="1179.2" cy="258.9" r="4.25" fill="#aa00e0"/>
<circle cx="1179.2" cy="264.7" r="4.25" fill="#aa00e0"/>
<circle cx="1179.2" cy="269.8" r="4.25" fill="#aa00e0"/>
<circle cx="1179.2" cy="274.4" r="4.25" fill="#aa00e0"/>
<line x1="1172.1" y1="269.5" x2="1186.2" y2="269.5" stroke="#aa00e0" stroke-width="2" stroke-linecap="butt"/>
<line x1="1199.6" y1="260.4" x2="1199.6" y2="266" stroke="#a3a3a6" stroke-width="2" stroke-linecap="butt"/>
<line x1="1196.1" y1="260.4" x2="1203.1" y2="260.4" stroke="#a3a3a6" stroke-width="2" stroke-linecap="butt"/>
<line x1="1196.1" y1="266" x2="1203.1" y2="266" stroke="#a3a3a6" stroke-width="2" stroke-linecap="butt"/>
<circle cx="1193.5" cy="244.6" r="4.25" fill="#a3a3a6"/>
<circle cx="1203" cy="252.4" r="4.25" fill="#a3a3a6"/>
<circle cx="1193.3" cy="272.1" r="4.25" fill="#a3a3a6"/>
<circle cx="1197.3" cy="267.5" r="4.25" fill="#a3a3a6"/>
<circle cx="1203" cy="266.4" r="4.25" fill="#a3a3a6"/>
<circle cx="1205.9" cy="268.1" r="4.25" fill="#a3a3a6"/>
<circle cx="1199.6" cy="272.1" r="4.25" fill="#a3a3a6"/>
<circle cx="1199.6" cy="273.8" r="4.25" fill="#a3a3a6"/>
<line x1="1219.9" y1="253.4" x2="1219.9" y2="266" stroke="#f755d0" stroke-width="2" stroke-linecap="butt"/>
<line x1="1216.4" y1="253.4" x2="1223.4" y2="253.4" stroke="#f755d0" stroke-width="2" stroke-linecap="butt"/>
<line x1="1216.4" y1="266" x2="1223.4" y2="266" stroke="#f755d0" stroke-width="2" stroke-linecap="butt"/>
<line x1="1212.9" y1="260.7" x2="1226.9" y2="260.7" stroke="#f755d0" stroke-width="2" stroke-linecap="butt"/>
<circle cx="1219.9" cy="219.2" r="4.25" fill="#f755d0"/>
<circle cx="1219.9" cy="241.2" r="4.25" fill="#f755d0"/>
<circle cx="1213.9" cy="271.5" r="4.25" fill="#f755d0"/>
<circle cx="1216.7" cy="267.5" r="4.25" fill="#f755d0"/>
<circle cx="1223.6" cy="267" r="4.25" fill="#f755d0"/>
<circle cx="1225.9" cy="271" r="4.25" fill="#f755d0"/>
<circle cx="1219.9" cy="273.2" r="4.25" fill="#f755d0"/>
<circle cx="1219.9" cy="268.7" r="4.25" fill="#f755d0"/>
<line x1="1240.4" y1="249.6" x2="1240.4" y2="263.8" stroke="#008000" stroke-width="2" stroke-linecap="butt"/>
<line x1="1236.9" y1="249.6" x2="1243.9" y2="249.6" stroke="#008000" stroke-width="2" stroke-linecap="butt"/>
<line x1="1236.9" y1="263.8" x2="1243.9" y2="263.8" stroke="#008000" stroke-width="2" stroke-linecap="butt"/>
<line x1="1233.4" y1="256.7" x2="1247.4" y2="256.7" stroke="#008000" stroke-width="2" stroke-linecap="butt"/>
<circle cx="1240.4" cy="226.6" r="4.25" fill="#008000"/>
<circle cx="1234.1" cy="232.6" r="4.25" fill="#008000"/>
<circle cx="1243.9" cy="243.1" r="4.25" fill="#008000"/>
<circle cx="1240.4" cy="265.2" r="4.25" fill="#008000"/>
<circle cx="1240.4" cy="271" r="4.25" fill="#008000"/>
<circle cx="1240.4" cy="276.7" r="4.25" fill="#008000"/>
<circle cx="1267.9" cy="268.8" r="4.25" fill="#000000"/>
<circle cx="1271.4" cy="265.3" r="4.25" fill="#000000"/>
<circle cx="1277.5" cy="264.4" r="4.25" fill="#000000"/>
<circle cx="1280.6" cy="268.8" r="4.25" fill="#000000"/>
<circle cx="1274.3" cy="270.5" r="4.25" fill="#000000"/>
<circle cx="1273.1" cy="276.6" r="4.25" fill="#000000"/>
<circle cx="1276.6" cy="273.1" r="4.25" fill="#000000"/>
<line x1="1288" y1="255.7" x2="1301" y2="255.7" stroke="#0000ff" stroke-width="2" stroke-linecap="butt"/>
<circle cx="1288.5" cy="245.2" r="4.25" fill="#0000ff"/>
<circle cx="1300.7" cy="246.9" r="4.25" fill="#0000ff"/>
<circle cx="1294.9" cy="250.4" r="4.25" fill="#0000ff"/>
<circle cx="1300.7" cy="251.3" r="4.25" fill="#0000ff"/>
<circle cx="1288.5" cy="257.4" r="4.25" fill="#0000ff"/>
<circle cx="1295.8" cy="255.7" r="4.25" fill="#0000ff"/>
<circle cx="1292.3" cy="264.4" r="4.25" fill="#0000ff"/>
<circle cx="1296.7" cy="261.8" r="4.25" fill="#0000ff"/>
<circle cx="1308.6" cy="267.9" r="4.25" fill="#ff8000"/>
<circle cx="1312.4" cy="264.4" r="4.25" fill="#ff8000"/>
<circle cx="1318.5" cy="263.9" r="4.25" fill="#ff8000"/>
<circle cx="1321.1" cy="267.9" r="4.25" fill="#ff8000"/>
<circle cx="1315" cy="269.7" r="4.25" fill="#ff8000"/>
<circle cx="1314.1" cy="273.7" r="4.25" fill="#ff8000"/>
<line x1="1328.1" y1="252.7" x2="1342" y2="252.7" stroke="#aa00e0" stroke-width="2" stroke-linecap="butt"/>
<circle cx="1335.1" cy="220.7" r="4.25" fill="#aa00e0"/>
<circle cx="1335.1" cy="242.6" r="4.25" fill="#aa00e0"/>
<circle cx="1335.1" cy="250.4" r="4.25" fill="#aa00e0"/>
<circle cx="1335.1" cy="258.3" r="4.25" fill="#aa00e0"/>
<circle cx="1335.1" cy="264.4" r="4.25" fill="#aa00e0"/>
<circle cx="1335.1" cy="269.7" r="4.25" fill="#aa00e0"/>
<line x1="1355.2" y1="223" x2="1355.2" y2="241.8" stroke="#a3a3a6" stroke-width="2" stroke-linecap="butt"/>
<line x1="1351.7" y1="223" x2="1358.7" y2="223" stroke="#a3a3a6" stroke-width="2" stroke-linecap="butt"/>
<line x1="1351.7" y1="241.8" x2="1358.7" y2="241.8" stroke="#a3a3a6" stroke-width="2" stroke-linecap="butt"/>
<line x1="1348.2" y1="232.4" x2="1362.2" y2="232.4" stroke="#a3a3a6" stroke-width="2" stroke-linecap="butt"/>
<circle cx="1355.2" cy="195.1" r="4.25" fill="#a3a3a6"/>
<circle cx="1355.2" cy="208" r="4.25" fill="#a3a3a6"/>
<circle cx="1355.2" cy="222.5" r="4.25" fill="#a3a3a6"/>
<circle cx="1355.2" cy="238.2" r="4.25" fill="#a3a3a6"/>
<circle cx="1355.2" cy="242.6" r="4.25" fill="#a3a3a6"/>
<circle cx="1361.3" cy="250.1" r="4.25" fill="#a3a3a6"/>
<circle cx="1351.9" cy="261.8" r="4.25" fill="#a3a3a6"/>
<line x1="1375.6" y1="178.9" x2="1375.6" y2="215.5" stroke="#f755d0" stroke-width="2" stroke-linecap="butt"/>
<line x1="1372.1" y1="178.9" x2="1379.1" y2="178.9" stroke="#f755d0" stroke-width="2" stroke-linecap="butt"/>
<line x1="1372.1" y1="215.5" x2="1379.1" y2="215.5" stroke="#f755d0" stroke-width="2" stroke-linecap="butt"/>
<line x1="1368.6" y1="197.2" x2="1382.6" y2="197.2" stroke="#f755d0" stroke-width="2" stroke-linecap="butt"/>
<circle cx="1375.9" cy="103" r="4.25" fill="#f755d0"/>
<circle cx="1375.9" cy="155.7" r="4.25" fill="#f755d0"/>
<circle cx="1375.6" cy="174.5" r="4.25" fill="#f755d0"/>
<circle cx="1375.6" cy="190.2" r="4.25" fill="#f755d0"/>
<circle cx="1375.6" cy="208.5" r="4.25" fill="#f755d0"/>
<circle cx="1375.6" cy="235.9" r="4.25" fill="#f755d0"/>
<circle cx="1381.7" cy="252.7" r="4.25" fill="#f755d0"/>
<circle cx="1372.1" cy="256.6" r="4.25" fill="#f755d0"/>
<line x1="1396.2" y1="173.9" x2="1396.2" y2="208.1" stroke="#008000" stroke-width="2" stroke-linecap="butt"/>
<line x1="1392.7" y1="173.9" x2="1399.7" y2="173.9" stroke="#008000" stroke-width="2" stroke-linecap="butt"/>
<line x1="1392.7" y1="208.1" x2="1399.7" y2="208.1" stroke="#008000" stroke-width="2" stroke-linecap="butt"/>
<line x1="1389.2" y1="191" x2="1403.2" y2="191" stroke="#008000" stroke-width="2" stroke-linecap="butt"/>
<circle cx="1396.7" cy="113" r="4.25" fill="#008000"/>
<circle cx="1396.7" cy="126" r="4.25" fill="#008000"/>
<circle cx="1396.2" cy="199.8" r="4.25" fill="#008000"/>
<circle cx="1390.1" cy="205" r="4.25" fill="#008000"/>
<circle cx="1394.5" cy="207.6" r="4.25" fill="#008000"/>
<circle cx="1402.4" cy="205" r="4.25" fill="#008000"/>
<circle cx="1398" cy="216.9" r="4.25" fill="#008000"/>
<circle cx="1396.2" cy="253.9" r="4.25" fill="#008000"/>
<text x="1348.68" y="179.69" font-size="30" font-weight="400" fill="#000" stroke="#000" stroke-width="0.3" transform="rotate(-90 1354.5 164.3)">*</text>
<text x="1348.68" y="193.29" font-size="30" font-weight="400" fill="#000" stroke="#000" stroke-width="0.3" transform="rotate(-90 1354.5 177.9)">*</text>
<text x="1369.48" y="62.39" font-size="30" font-weight="400" fill="#000" stroke="#000" stroke-width="0.3" transform="rotate(-90 1375.3 47)">*</text>
<text x="1369.48" y="76.39" font-size="30" font-weight="400" fill="#000" stroke="#000" stroke-width="0.3" transform="rotate(-90 1375.3 61)">*</text>
<text x="1369.48" y="90.39" font-size="30" font-weight="400" fill="#000" stroke="#000" stroke-width="0.3" transform="rotate(-90 1375.3 75)">*</text>
<text x="1369.48" y="104.39" font-size="30" font-weight="400" fill="#000" stroke="#000" stroke-width="0.3" transform="rotate(-90 1375.3 89)">*</text>
<text x="1390.78" y="64.09" font-size="30" font-weight="400" fill="#000" stroke="#000" stroke-width="0.3" transform="rotate(-90 1396.6 48.7)">*</text>
<text x="1390.78" y="78.19" font-size="30" font-weight="400" fill="#000" stroke="#000" stroke-width="0.3" transform="rotate(-90 1396.6 62.8)">*</text>
<text x="1390.78" y="92.29" font-size="30" font-weight="400" fill="#000" stroke="#000" stroke-width="0.3" transform="rotate(-90 1396.6 76.9)">*</text>
<text x="1390.78" y="106.39" font-size="30" font-weight="400" fill="#000" stroke="#000" stroke-width="0.3" transform="rotate(-90 1396.6 91)">*</text>
</g>
<g id="legend-bc">
<rect x="1440.8" y="55.8" width="579.2" height="241.9" fill="none" stroke="#000" stroke-width="2.6"/>
<text x="1483.5" y="83.9" font-size="25.05" font-weight="700" text-anchor="start" fill="#000" transform="rotate(0.03 1483.5 83.9)">Pre-treatment</text>
<text x="1788.8" y="83.9" font-size="25.05" font-weight="700" text-anchor="start" fill="#000" transform="rotate(0.03 1788.8 83.9)">/ assay treatment</text>
<circle cx="1459.3" cy="103.5" r="4.3" fill="#000000"/>
<text x="1484" y="112.95" font-size="25.05" font-weight="400" text-anchor="start" fill="#000" transform="rotate(0.03 1484 112.95)">Vehicle</text>
<text x="1782.3" y="112.95" font-size="25.05" font-weight="400" text-anchor="start" fill="#000" transform="rotate(0.03 1782.3 112.95)">/ saline + glucose</text>
<circle cx="1459.3" cy="131.73" r="4.3" fill="#0000ff"/>
<text x="1484" y="141.18" font-size="25.05" font-weight="400" text-anchor="start" fill="#000" transform="rotate(0.03 1484 141.18)">Vehicle</text>
<text x="1761.3" y="141.18" font-size="25.05" font-weight="400" text-anchor="start" fill="#000" transform="rotate(0.03 1761.3 141.18)">/ DA-GIP + glucose</text>
<circle cx="1459.3" cy="159.95" r="4.3" fill="#ff8000"/>
<text x="1482" y="169.4" font-size="25.05" font-weight="400" text-anchor="start" fill="#000" transform="rotate(0.03 1482 169.4)">LA-Agonist (1.9 nmol/kg)</text>
<text x="1778.5" y="169.4" font-size="25.05" font-weight="400" text-anchor="start" fill="#000" transform="rotate(0.03 1778.5 169.4)">/ saline + glucose</text>
<circle cx="1459.3" cy="188.18" r="4.3" fill="#aa00e0"/>
<text x="1482" y="197.62" font-size="25.05" font-weight="400" text-anchor="start" fill="#000" transform="rotate(0.03 1482 197.62)">LA-Agonist (5.6 nmol/kg)</text>
<text x="1778.5" y="197.62" font-size="25.05" font-weight="400" text-anchor="start" fill="#000" transform="rotate(0.03 1778.5 197.62)">/ saline + glucose</text>
<circle cx="1459.3" cy="216.4" r="4.3" fill="#a3a3a6"/>
<text x="1482" y="225.85" font-size="25.05" font-weight="400" text-anchor="start" fill="#000" transform="rotate(0.03 1482 225.85)">LA-Agonist (16.7 nmol/kg)</text>
<text x="1778.5" y="225.85" font-size="25.05" font-weight="400" text-anchor="start" fill="#000" transform="rotate(0.03 1778.5 225.85)">/ saline + glucose</text>
<circle cx="1459.3" cy="244.62" r="4.3" fill="#f755d0"/>
<text x="1482" y="254.07" font-size="25.05" font-weight="400" text-anchor="start" fill="#000" transform="rotate(0.03 1482 254.07)">LA-Agonist (50 nmol/kg)</text>
<text x="1778.5" y="254.07" font-size="25.05" font-weight="400" text-anchor="start" fill="#000" transform="rotate(0.03 1778.5 254.07)">/ saline + glucose</text>
<circle cx="1459.3" cy="272.85" r="4.3" fill="#008000"/>
<text x="1482" y="282.3" font-size="25.05" font-weight="400" text-anchor="start" fill="#000" transform="rotate(0.03 1482 282.3)">LA-Agonist (150 nmol/kg)</text>
<text x="1778.5" y="282.3" font-size="25.05" font-weight="400" text-anchor="start" fill="#000" transform="rotate(0.03 1778.5 282.3)">/ saline + glucose</text>
</g>
<g id="panel-d">
<text x="-0.6" y="463.7" font-size="41.5" font-weight="700" text-anchor="start" fill="#000" transform="rotate(0.03 -0.6 463.7)">d</text>
<text x="352.5" y="502.85" font-size="29.2" font-weight="700" text-anchor="middle" fill="#000" transform="rotate(0.03 352.5 502.85)">Glucose exposure-response</text>
<line x1="185.6" y1="529.15" x2="185.6" y2="719.85" stroke="#000" stroke-width="2.3" stroke-linecap="butt"/>
<line x1="179.4" y1="530.3" x2="185.6" y2="530.3" stroke="#000" stroke-width="2.3" stroke-linecap="butt"/>
<text x="169.5" y="539.5" font-size="29.2" font-weight="700" text-anchor="end" fill="#000" transform="rotate(0.03 169.5 539.5)">50,000</text>
<line x1="179.4" y1="567.98" x2="185.6" y2="567.98" stroke="#000" stroke-width="2.3" stroke-linecap="butt"/>
<text x="169.5" y="577.18" font-size="29.2" font-weight="700" text-anchor="end" fill="#000" transform="rotate(0.03 169.5 577.18)">40,000</text>
<line x1="179.4" y1="605.66" x2="185.6" y2="605.66" stroke="#000" stroke-width="2.3" stroke-linecap="butt"/>
<text x="169.5" y="614.86" font-size="29.2" font-weight="700" text-anchor="end" fill="#000" transform="rotate(0.03 169.5 614.86)">30,000</text>
<line x1="179.4" y1="643.34" x2="185.6" y2="643.34" stroke="#000" stroke-width="2.3" stroke-linecap="butt"/>
<text x="169.5" y="652.54" font-size="29.2" font-weight="700" text-anchor="end" fill="#000" transform="rotate(0.03 169.5 652.54)">20,000</text>
<line x1="179.4" y1="681.02" x2="185.6" y2="681.02" stroke="#000" stroke-width="2.3" stroke-linecap="butt"/>
<text x="169.5" y="690.22" font-size="29.2" font-weight="700" text-anchor="end" fill="#000" transform="rotate(0.03 169.5 690.22)">10,000</text>
<line x1="179.4" y1="718.7" x2="185.6" y2="718.7" stroke="#000" stroke-width="2.3" stroke-linecap="butt"/>
<text x="169.5" y="727.9" font-size="29.2" font-weight="700" text-anchor="end" fill="#000" transform="rotate(0.03 169.5 727.9)">0</text>
<line x1="205.15" y1="739.3" x2="500.65" y2="739.3" stroke="#000" stroke-width="2.3" stroke-linecap="butt"/>
<line x1="206.3" y1="739.3" x2="206.3" y2="745.6" stroke="#000" stroke-width="2.3" stroke-linecap="butt"/>
<text x="246.4" y="780" font-size="29.2" font-weight="700" text-anchor="end" fill="#000" transform="rotate(0.03 246.4 780)">Vehicle</text>
<line x1="264.95" y1="739.3" x2="264.95" y2="745.6" stroke="#000" stroke-width="2.3" stroke-linecap="butt"/>
<text x="264.95" y="780" font-size="29.2" font-weight="700" text-anchor="middle" fill="#000" transform="rotate(0.03 264.95 780)">0</text>
<line x1="323.6" y1="739.3" x2="323.6" y2="745.6" stroke="#000" stroke-width="2.3" stroke-linecap="butt"/>
<text x="323.6" y="780" font-size="29.2" font-weight="700" text-anchor="middle" fill="#000" transform="rotate(0.03 323.6 780)">1</text>
<line x1="382.25" y1="739.3" x2="382.25" y2="745.6" stroke="#000" stroke-width="2.3" stroke-linecap="butt"/>
<text x="382.25" y="780" font-size="29.2" font-weight="700" text-anchor="middle" fill="#000" transform="rotate(0.03 382.25 780)">2</text>
<line x1="440.9" y1="739.3" x2="440.9" y2="745.6" stroke="#000" stroke-width="2.3" stroke-linecap="butt"/>
<text x="440.9" y="780" font-size="29.2" font-weight="700" text-anchor="middle" fill="#000" transform="rotate(0.03 440.9 780)">3</text>
<line x1="499.55" y1="739.3" x2="499.55" y2="745.6" stroke="#000" stroke-width="2.3" stroke-linecap="butt"/>
<text x="499.55" y="780" font-size="29.2" font-weight="700" text-anchor="middle" fill="#000" transform="rotate(0.03 499.55 780)">4</text>
<text x="354" y="820.2" font-size="29.2" font-weight="700" text-anchor="middle" fill="#000" transform="rotate(0.03 354 820.2)">Log [LA-Agonist] (nM)</text>
<text x="24.5" y="624.3" font-size="29.2" font-weight="700" text-anchor="middle" fill="#000" transform="rotate(-90 24.5 624.3)">Area under the curve</text>
<text x="59.2" y="624.6" font-size="29.2" font-weight="700" text-anchor="middle" fill="#000" transform="rotate(-90 59.2 624.6)">(min*mg/dL)</text>
<path d="M206,571.7 C210.83,572.15 225.23,573.37 235,574.4 C244.77,575.43 256.1,576.63 264.6,577.9 C273.1,579.17 279.07,580.45 286,582 C292.93,583.55 299.87,585.53 306.2,587.2 C312.53,588.87 318.12,590.27 324,592 C329.88,593.73 336,595.6 341.5,597.6 C347,599.6 351.67,601.75 357,604 C362.33,606.25 368.67,608.9 373.5,611.1 C378.33,613.3 381.72,615.12 386,617.2 C390.28,619.28 394.87,621.37 399.2,623.6 C403.53,625.83 407.63,628.18 412,630.6 C416.37,633.02 420.73,635.45 425.4,638.1 C430.07,640.75 435.08,643.72 440,646.5 C444.92,649.28 452.42,653.42 454.9,654.8" fill="none" stroke="#000000" stroke-width="3.1" stroke-linecap="butt"/>
<line x1="373.5" y1="595.6" x2="373.5" y2="609" stroke="#000000" stroke-width="3" stroke-linecap="butt"/>
<line x1="369.2" y1="595.6" x2="377.8" y2="595.6" stroke="#000000" stroke-width="3" stroke-linecap="butt"/>
<line x1="369.2" y1="609" x2="377.8" y2="609" stroke="#000000" stroke-width="3" stroke-linecap="butt"/>
<line x1="425.4" y1="646.9" x2="425.4" y2="658.3" stroke="#000000" stroke-width="3" stroke-linecap="butt"/>
<line x1="421.1" y1="646.9" x2="429.7" y2="646.9" stroke="#000000" stroke-width="3" stroke-linecap="butt"/>
<line x1="421.1" y1="658.3" x2="429.7" y2="658.3" stroke="#000000" stroke-width="3" stroke-linecap="butt"/>
<line x1="454.9" y1="643.3" x2="454.9" y2="656.8" stroke="#000000" stroke-width="3" stroke-linecap="butt"/>
<line x1="450.6" y1="643.3" x2="459.2" y2="643.3" stroke="#000000" stroke-width="3" stroke-linecap="butt"/>
<line x1="450.6" y1="656.8" x2="459.2" y2="656.8" stroke="#000000" stroke-width="3" stroke-linecap="butt"/>
<circle cx="206" cy="571" r="4.6" fill="#000000"/>
<circle cx="341.5" cy="604.5" r="4.6" fill="#000000"/>
<circle cx="373.5" cy="602.4" r="4.6" fill="#000000"/>
<circle cx="399.2" cy="617.4" r="4.6" fill="#000000"/>
<circle cx="425.4" cy="652.7" r="4.6" fill="#000000"/>
<circle cx="454.9" cy="649.6" r="4.6" fill="#000000"/>
<text x="197.6" y="706.4" font-size="25" font-weight="700" fill="#000" transform="rotate(0.03 197.6 706.4)">IC<tspan font-size="17" font-weight="400" dy="8.8">50</tspan><tspan dy="-8.8"> = 328 nM</tspan></text>
</g>
<g id="panel-e">
<text x="602.2" y="463.2" font-size="41.5" font-weight="700" text-anchor="start" fill="#000" transform="rotate(0.03 602.2 463.2)">e</text>
<text x="929.5" y="502.85" font-size="29.2" font-weight="700" text-anchor="middle" fill="#000" transform="rotate(0.03 929.5 502.85)">Insulin exposure-response</text>
<line x1="762.7" y1="529.45" x2="762.7" y2="720.15" stroke="#000" stroke-width="2.3" stroke-linecap="butt"/>
<line x1="756.5" y1="530.6" x2="762.7" y2="530.6" stroke="#000" stroke-width="2.3" stroke-linecap="butt"/>
<text x="746.3" y="539.8" font-size="29.2" font-weight="700" text-anchor="end" fill="#000" transform="rotate(0.03 746.3 539.8)">2000</text>
<line x1="756.5" y1="577.7" x2="762.7" y2="577.7" stroke="#000" stroke-width="2.3" stroke-linecap="butt"/>
<text x="746.3" y="586.9" font-size="29.2" font-weight="700" text-anchor="end" fill="#000" transform="rotate(0.03 746.3 586.9)">1500</text>
<line x1="756.5" y1="624.8" x2="762.7" y2="624.8" stroke="#000" stroke-width="2.3" stroke-linecap="butt"/>
<text x="746.3" y="634" font-size="29.2" font-weight="700" text-anchor="end" fill="#000" transform="rotate(0.03 746.3 634)">1000</text>
<line x1="756.5" y1="671.9" x2="762.7" y2="671.9" stroke="#000" stroke-width="2.3" stroke-linecap="butt"/>
<text x="746.3" y="681.1" font-size="29.2" font-weight="700" text-anchor="end" fill="#000" transform="rotate(0.03 746.3 681.1)">500</text>
<line x1="756.5" y1="719" x2="762.7" y2="719" stroke="#000" stroke-width="2.3" stroke-linecap="butt"/>
<text x="746.3" y="728.2" font-size="29.2" font-weight="700" text-anchor="end" fill="#000" transform="rotate(0.03 746.3 728.2)">0</text>
<line x1="782.45" y1="739.6" x2="1078.15" y2="739.6" stroke="#000" stroke-width="2.3" stroke-linecap="butt"/>
<line x1="783.6" y1="739.6" x2="783.6" y2="745.9" stroke="#000" stroke-width="2.3" stroke-linecap="butt"/>
<text x="826.6" y="780" font-size="29.2" font-weight="700" text-anchor="end" fill="#000" transform="rotate(0.03 826.6 780)">Vehicle</text>
<line x1="842.28" y1="739.6" x2="842.28" y2="745.9" stroke="#000" stroke-width="2.3" stroke-linecap="butt"/>
<text x="842.28" y="780" font-size="29.2" font-weight="700" text-anchor="middle" fill="#000" transform="rotate(0.03 842.28 780)">0</text>
<line x1="900.96" y1="739.6" x2="900.96" y2="745.9" stroke="#000" stroke-width="2.3" stroke-linecap="butt"/>
<text x="900.96" y="780" font-size="29.2" font-weight="700" text-anchor="middle" fill="#000" transform="rotate(0.03 900.96 780)">1</text>
<line x1="959.64" y1="739.6" x2="959.64" y2="745.9" stroke="#000" stroke-width="2.3" stroke-linecap="butt"/>
<text x="959.64" y="780" font-size="29.2" font-weight="700" text-anchor="middle" fill="#000" transform="rotate(0.03 959.64 780)">2</text>
<line x1="1018.32" y1="739.6" x2="1018.32" y2="745.9" stroke="#000" stroke-width="2.3" stroke-linecap="butt"/>
<text x="1018.32" y="780" font-size="29.2" font-weight="700" text-anchor="middle" fill="#000" transform="rotate(0.03 1018.32 780)">3</text>
<line x1="1077" y1="739.6" x2="1077" y2="745.9" stroke="#000" stroke-width="2.3" stroke-linecap="butt"/>
<text x="1077" y="780" font-size="29.2" font-weight="700" text-anchor="middle" fill="#000" transform="rotate(0.03 1077 780)">4</text>
<text x="930.3" y="823.2" font-size="29.2" font-weight="700" text-anchor="middle" fill="#000" transform="rotate(0.03 930.3 823.2)">Log [LA-Agonist] (nM)</text>
<text x="628.3" y="624.9" font-size="29.2" font-weight="700" text-anchor="middle" fill="#000" transform="rotate(-90 628.3 624.9)">Area under the curve</text>
<text x="662.1" y="624.9" font-size="29.2" font-weight="700" text-anchor="middle" fill="#000" transform="rotate(-90 662.1 624.9)">(min*ng/mL)</text>
<path d="M783.6,678.7 C789.67,678.68 808.15,678.65 820,678.6 C831.85,678.55 845.53,678.48 854.7,678.4 C863.87,678.32 868.75,678.27 875,678.1 C881.25,677.93 887.03,677.72 892.2,677.4 C897.37,677.08 901.53,676.73 906,676.2 C910.47,675.67 914.17,675.43 919,674.2 C923.83,672.97 929.68,671.1 935,668.8 C940.32,666.5 946.07,663.45 950.9,660.4 C955.73,657.35 959.72,654.23 964,650.5 C968.28,646.77 972.27,642.5 976.6,638 C980.93,633.5 985.6,628 990,623.5 C994.4,619 998.33,614.58 1003,611 C1007.67,607.42 1013.08,604.33 1018,602 C1022.92,599.67 1030.08,597.83 1032.5,597" fill="none" stroke="#000000" stroke-width="3.1" stroke-linecap="butt"/>
<line x1="950.9" y1="650" x2="950.9" y2="666" stroke="#000000" stroke-width="3" stroke-linecap="butt"/>
<line x1="946.6" y1="650" x2="955.2" y2="650" stroke="#000000" stroke-width="3" stroke-linecap="butt"/>
<line x1="946.6" y1="666" x2="955.2" y2="666" stroke="#000000" stroke-width="3" stroke-linecap="butt"/>
<line x1="976.6" y1="633" x2="976.6" y2="648.7" stroke="#000000" stroke-width="3" stroke-linecap="butt"/>
<line x1="972.3" y1="633" x2="980.9" y2="633" stroke="#000000" stroke-width="3" stroke-linecap="butt"/>
<line x1="972.3" y1="648.7" x2="980.9" y2="648.7" stroke="#000000" stroke-width="3" stroke-linecap="butt"/>
<line x1="1003" y1="588" x2="1003" y2="625" stroke="#000000" stroke-width="3" stroke-linecap="butt"/>
<line x1="998.7" y1="588" x2="1007.3" y2="588" stroke="#000000" stroke-width="3" stroke-linecap="butt"/>
<line x1="998.7" y1="625" x2="1007.3" y2="625" stroke="#000000" stroke-width="3" stroke-linecap="butt"/>
<line x1="1032.5" y1="580.5" x2="1032.5" y2="614" stroke="#000000" stroke-width="3" stroke-linecap="butt"/>
<line x1="1028.2" y1="580.5" x2="1036.8" y2="580.5" stroke="#000000" stroke-width="3" stroke-linecap="butt"/>
<line x1="1028.2" y1="614" x2="1036.8" y2="614" stroke="#000000" stroke-width="3" stroke-linecap="butt"/>
<circle cx="783.6" cy="678.7" r="4.6" fill="#000000"/>
<circle cx="919" cy="676.2" r="4.6" fill="#000000"/>
<circle cx="950.9" cy="656.7" r="4.6" fill="#000000"/>
<circle cx="976.6" cy="641" r="4.6" fill="#000000"/>
<circle cx="1003" cy="606.7" r="4.6" fill="#000000"/>
<circle cx="1032.5" cy="597" r="4.6" fill="#000000"/>
<text x="769.6" y="560" font-size="25" font-weight="700" fill="#000" transform="rotate(0.03 769.6 560)">EC<tspan font-size="17" font-weight="400" dy="8.8">50</tspan><tspan dy="-8.8"> = 212 nM</tspan></text>
</g>
<g id="panel-f">
<text x="1173" y="463.7" font-size="41.5" font-weight="700" text-anchor="start" fill="#000" transform="rotate(0.03 1173 463.7)">f</text>
<text x="1501" y="502.85" font-size="29.2" font-weight="700" text-anchor="middle" fill="#000" transform="rotate(0.03 1501 502.85)">Single dose pharmacokinetics</text>
<line x1="1334.5" y1="530.65" x2="1334.5" y2="720.95" stroke="#000" stroke-width="2.3" stroke-linecap="butt"/>
<line x1="1328.9" y1="531.8" x2="1334.5" y2="531.8" stroke="#000" stroke-width="2.3" stroke-linecap="butt"/>
<text x="1318.4" y="541.1" font-size="29.2" font-weight="700" text-anchor="end" fill="#000" transform="rotate(0.03 1318.4 541.1)">1000</text>
<line x1="1331.2" y1="564.65" x2="1334.5" y2="564.65" stroke="#000" stroke-width="1.3" stroke-linecap="butt"/>
<line x1="1331.2" y1="556.38" x2="1334.5" y2="556.38" stroke="#000" stroke-width="1.3" stroke-linecap="butt"/>
<line x1="1331.2" y1="550.5" x2="1334.5" y2="550.5" stroke="#000" stroke-width="1.3" stroke-linecap="butt"/>
<line x1="1331.2" y1="545.95" x2="1334.5" y2="545.95" stroke="#000" stroke-width="1.3" stroke-linecap="butt"/>
<line x1="1331.2" y1="542.23" x2="1334.5" y2="542.23" stroke="#000" stroke-width="1.3" stroke-linecap="butt"/>
<line x1="1331.2" y1="539.08" x2="1334.5" y2="539.08" stroke="#000" stroke-width="1.3" stroke-linecap="butt"/>
<line x1="1331.2" y1="536.35" x2="1334.5" y2="536.35" stroke="#000" stroke-width="1.3" stroke-linecap="butt"/>
<line x1="1331.2" y1="533.95" x2="1334.5" y2="533.95" stroke="#000" stroke-width="1.3" stroke-linecap="butt"/>
<line x1="1328.9" y1="578.8" x2="1334.5" y2="578.8" stroke="#000" stroke-width="2.3" stroke-linecap="butt"/>
<text x="1318.4" y="588.1" font-size="29.2" font-weight="700" text-anchor="end" fill="#000" transform="rotate(0.03 1318.4 588.1)">100</text>
<line x1="1331.2" y1="611.65" x2="1334.5" y2="611.65" stroke="#000" stroke-width="1.3" stroke-linecap="butt"/>
<line x1="1331.2" y1="603.38" x2="1334.5" y2="603.38" stroke="#000" stroke-width="1.3" stroke-linecap="butt"/>
<line x1="1331.2" y1="597.5" x2="1334.5" y2="597.5" stroke="#000" stroke-width="1.3" stroke-linecap="butt"/>
<line x1="1331.2" y1="592.95" x2="1334.5" y2="592.95" stroke="#000" stroke-width="1.3" stroke-linecap="butt"/>
<line x1="1331.2" y1="589.23" x2="1334.5" y2="589.23" stroke="#000" stroke-width="1.3" stroke-linecap="butt"/>
<line x1="1331.2" y1="586.08" x2="1334.5" y2="586.08" stroke="#000" stroke-width="1.3" stroke-linecap="butt"/>
<line x1="1331.2" y1="583.35" x2="1334.5" y2="583.35" stroke="#000" stroke-width="1.3" stroke-linecap="butt"/>
<line x1="1331.2" y1="580.95" x2="1334.5" y2="580.95" stroke="#000" stroke-width="1.3" stroke-linecap="butt"/>
<line x1="1328.9" y1="625.8" x2="1334.5" y2="625.8" stroke="#000" stroke-width="2.3" stroke-linecap="butt"/>
<text x="1318.4" y="635.1" font-size="29.2" font-weight="700" text-anchor="end" fill="#000" transform="rotate(0.03 1318.4 635.1)">10</text>
<line x1="1331.2" y1="658.65" x2="1334.5" y2="658.65" stroke="#000" stroke-width="1.3" stroke-linecap="butt"/>
<line x1="1331.2" y1="650.38" x2="1334.5" y2="650.38" stroke="#000" stroke-width="1.3" stroke-linecap="butt"/>
<line x1="1331.2" y1="644.5" x2="1334.5" y2="644.5" stroke="#000" stroke-width="1.3" stroke-linecap="butt"/>
<line x1="1331.2" y1="639.95" x2="1334.5" y2="639.95" stroke="#000" stroke-width="1.3" stroke-linecap="butt"/>
<line x1="1331.2" y1="636.23" x2="1334.5" y2="636.23" stroke="#000" stroke-width="1.3" stroke-linecap="butt"/>
<line x1="1331.2" y1="633.08" x2="1334.5" y2="633.08" stroke="#000" stroke-width="1.3" stroke-linecap="butt"/>
<line x1="1331.2" y1="630.35" x2="1334.5" y2="630.35" stroke="#000" stroke-width="1.3" stroke-linecap="butt"/>
<line x1="1331.2" y1="627.95" x2="1334.5" y2="627.95" stroke="#000" stroke-width="1.3" stroke-linecap="butt"/>
<line x1="1328.9" y1="672.8" x2="1334.5" y2="672.8" stroke="#000" stroke-width="2.3" stroke-linecap="butt"/>
<text x="1315.6" y="682.1" font-size="29.2" font-weight="700" text-anchor="end" fill="#000" transform="rotate(0.03 1315.6 682.1)">1</text>
<line x1="1331.2" y1="705.65" x2="1334.5" y2="705.65" stroke="#000" stroke-width="1.3" stroke-linecap="butt"/>
<line x1="1331.2" y1="697.38" x2="1334.5" y2="697.38" stroke="#000" stroke-width="1.3" stroke-linecap="butt"/>
<line x1="1331.2" y1="691.5" x2="1334.5" y2="691.5" stroke="#000" stroke-width="1.3" stroke-linecap="butt"/>
<line x1="1331.2" y1="686.95" x2="1334.5" y2="686.95" stroke="#000" stroke-width="1.3" stroke-linecap="butt"/>
<line x1="1331.2" y1="683.23" x2="1334.5" y2="683.23" stroke="#000" stroke-width="1.3" stroke-linecap="butt"/>
<line x1="1331.2" y1="680.08" x2="1334.5" y2="680.08" stroke="#000" stroke-width="1.3" stroke-linecap="butt"/>
<line x1="1331.2" y1="677.35" x2="1334.5" y2="677.35" stroke="#000" stroke-width="1.3" stroke-linecap="butt"/>
<line x1="1331.2" y1="674.95" x2="1334.5" y2="674.95" stroke="#000" stroke-width="1.3" stroke-linecap="butt"/>
<line x1="1328.9" y1="719.8" x2="1334.5" y2="719.8" stroke="#000" stroke-width="2.3" stroke-linecap="butt"/>
<text x="1315.6" y="729.1" font-size="29.2" font-weight="700" text-anchor="end" fill="#000" transform="rotate(0.03 1315.6 729.1)">0.1</text>
<line x1="1354.3" y1="740.1" x2="1648.4" y2="740.1" stroke="#000" stroke-width="2.3" stroke-linecap="butt"/>
<line x1="1355.5" y1="740.1" x2="1355.5" y2="745.8" stroke="#000" stroke-width="2.3" stroke-linecap="butt"/>
<text x="1355.5" y="780" font-size="29.2" font-weight="700" text-anchor="middle" fill="#000" transform="rotate(0.03 1355.5 780)">0</text>
<line x1="1439" y1="740.1" x2="1439" y2="745.8" stroke="#000" stroke-width="2.3" stroke-linecap="butt"/>
<text x="1439" y="780" font-size="29.2" font-weight="700" text-anchor="middle" fill="#000" transform="rotate(0.03 1439 780)">48</text>
<line x1="1522.5" y1="740.1" x2="1522.5" y2="745.8" stroke="#000" stroke-width="2.3" stroke-linecap="butt"/>
<text x="1522.5" y="780" font-size="29.2" font-weight="700" text-anchor="middle" fill="#000" transform="rotate(0.03 1522.5 780)">96</text>
<line x1="1606" y1="740.1" x2="1606" y2="745.8" stroke="#000" stroke-width="2.3" stroke-linecap="butt"/>
<text x="1606" y="780" font-size="29.2" font-weight="700" text-anchor="middle" fill="#000" transform="rotate(0.03 1606 780)">144</text>
<text x="1501.3" y="820.9" font-size="29.2" font-weight="700" text-anchor="middle" fill="#000" transform="rotate(0.03 1501.3 820.9)">Time post-dose (hours)</text>
<text x="1198.5" y="626.2" font-size="29.2" font-weight="700" text-anchor="middle" fill="#000" transform="rotate(-90 1198.5 626.2)">LA-agonist plasma</text>
<text x="1231.8" y="624.2" font-size="29.2" font-weight="700" text-anchor="middle" transform="rotate(-90 1231.8 624.2)">concentration (<tspan font-weight="400" font-family="'Liberation Serif','DejaVu Serif',serif">μ</tspan>g/mL)</text>
<polyline points="1360.3,602.1 1366.3,602.6 1397.4,621 1439.2,629.7 1522.7,642.5 1647.6,651.2" fill="none" stroke="#00be00" stroke-width="3.5" stroke-linejoin="round" stroke-linecap="butt"/>
<circle cx="1360.3" cy="602.1" r="5.4" fill="#00be00"/>
<circle cx="1366.3" cy="602.6" r="5.4" fill="#00be00"/>
<circle cx="1397.4" cy="621" r="5.4" fill="#00be00"/>
<circle cx="1439.2" cy="629.7" r="5.4" fill="#00be00"/>
<circle cx="1522.7" cy="642.5" r="5.4" fill="#00be00"/>
<circle cx="1647.6" cy="651.2" r="5.4" fill="#00be00"/>
<polyline points="1355.5,585.8 1360.75,596 1365.9,604.3 1397.1,622.4 1439.2,633 1522.7,645 1647.6,659.2" fill="none" stroke="#0000ff" stroke-width="3.5" stroke-linejoin="round" stroke-linecap="butt"/>
<circle cx="1355.5" cy="585.8" r="5.4" fill="#0000ff"/>
<circle cx="1360.75" cy="596" r="5.4" fill="#0000ff"/>
<circle cx="1365.9" cy="604.3" r="5.4" fill="#0000ff"/>
<circle cx="1397.1" cy="622.4" r="5.4" fill="#0000ff"/>
<circle cx="1439.2" cy="633" r="5.4" fill="#0000ff"/>
<circle cx="1522.7" cy="645" r="5.4" fill="#0000ff"/>
<circle cx="1647.6" cy="659.2" r="5.4" fill="#0000ff"/>
<rect x="1674" y="533.6" width="322.6" height="66" fill="none" stroke="#000" stroke-width="2.8"/>
<line x1="1680.2" y1="555.5" x2="1703" y2="555.5" stroke="#0000ff" stroke-width="3.2" stroke-linecap="butt"/>
<circle cx="1691.5" cy="555.5" r="5.2" fill="#0000ff"/>
<line x1="1680.2" y1="581.8" x2="1703" y2="581.8" stroke="#00be00" stroke-width="3.2" stroke-linecap="butt"/>
<circle cx="1691.5" cy="581.8" r="5.2" fill="#00be00"/>
<text x="1713.3" y="562.7" font-size="25.05" font-weight="400" text-anchor="start" fill="#000" transform="rotate(0.03 1713.3 562.7)">LA-Agonist (5 mg/kg) IV</text>
<text x="1713.3" y="589" font-size="25.05" font-weight="400" text-anchor="start" fill="#000" transform="rotate(0.03 1713.3 589)">LA-Agonist (5 mg/kg) IP</text>
</g>
</svg>
</body>
</html>
